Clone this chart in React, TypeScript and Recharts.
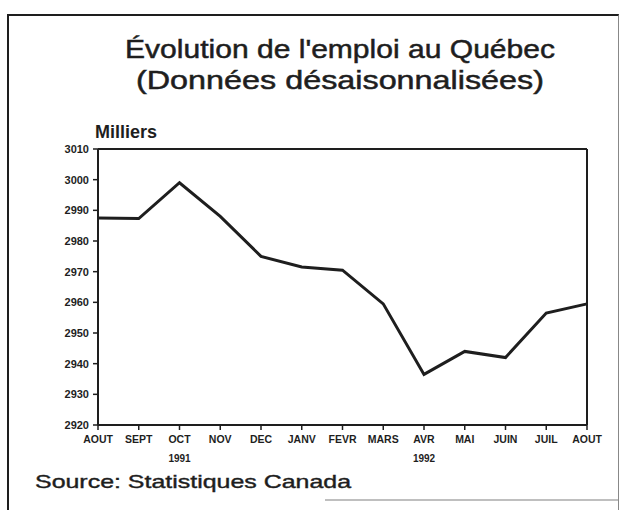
import React from "react";
import { LineChart, Line, XAxis, YAxis, ReferenceLine } from "recharts";

const periods = ["1991-08", "1991-09", "1991-10", "1991-11", "1991-12", "1992-01", "1992-02", "1992-03", "1992-04", "1992-05", "1992-06", "1992-07", "1992-08"];
const monthLabels = ["AOUT", "SEPT", "OCT", "NOV", "DEC", "JANV", "FEVR", "MARS", "AVR", "MAI", "JUIN", "JUIL", "AOUT"];
const employment = [2987.5, 2987.3, 2999, 2988, 2975, 2971.5, 2970.5, 2959.5, 2936.5, 2944, 2942, 2956.5, 2959.5];
const yTicks = [2920, 2930, 2940, 2950, 2960, 2970, 2980, 2990, 3000, 3010];
const yearLabels = [
  { period: "1991-10", label: "1991" },
  { period: "1992-04", label: "1992" },
];

const data = periods.map((p, i) => ({ period: p, value: employment[i] }));

const FONT = "'Liberation Sans', Arial, Helvetica, sans-serif";
const INK = "#1e1e1e";

const YearTick = (props: any) => {
  const { x, y, payload, index } = props;
  const year = yearLabels.find((yl) => yl.period === payload.value);
  return (
    <g>
      <text x={x} y={y + 11} textAnchor="middle" fontFamily={FONT} fontWeight="bold" fontSize={10.5} fill={INK}>
        {monthLabels[index]}
      </text>
      {year ? (
        <text x={x} y={y + 30} textAnchor="middle" fontFamily={FONT} fontWeight="bold" fontSize={10} fill={INK}>
          {year.label}
        </text>
      ) : null}
    </g>
  );
};

const YTick = (props: any) => {
  const { x, y, payload } = props;
  return (
    <text x={x - 2} y={y + 4} textAnchor="end" fontFamily={FONT} fontWeight="bold" fontSize={11} fill={INK}>
      {payload.value}
    </text>
  );
};

export default function App() {
  return (
    <div style={{ position: "relative", width: 624, height: 510, background: "#fff", fontFamily: FONT }}>
      <style>{"body{margin:0;background:#fff}"}</style>
      <div
        style={{
          position: "absolute",
          left: 7,
          top: 14,
          width: 612,
          height: 496,
          borderTop: `2px solid ${INK}`,
          borderLeft: `2px solid ${INK}`,
          borderRight: `1px solid #888`,
          boxSizing: "border-box",
        }}
      />
      <svg width={624} height={510} style={{ position: "absolute", left: 0, top: 0 }}>
        <text x={340} y={58} textAnchor="middle" fontFamily={FONT} fontSize={26} fill={INK} stroke={INK} strokeWidth={0.5} textLength={430} lengthAdjust="spacingAndGlyphs">
          Évolution de l'emploi au Québec
        </text>
        <text x={340} y={89} textAnchor="middle" fontFamily={FONT} fontSize={26} fill={INK} stroke={INK} strokeWidth={0.5} textLength={408} lengthAdjust="spacingAndGlyphs">
          (Données désaisonnalisées)
        </text>
        <text x={95} y={138} fontFamily={FONT} fontSize={18} fontWeight={600} fill={INK}>
          Milliers
        </text>
        <text x={35} y={488} fontFamily={FONT} fontSize={19} fill={INK} stroke={INK} strokeWidth={0.4} textLength={316} lengthAdjust="spacingAndGlyphs">
          Source: Statistiques Canada
        </text>
        <line x1={325} y1={500} x2={618} y2={500} stroke="#aaa" strokeWidth={1.5} />
      </svg>
      <div style={{ position: "absolute", left: 0, top: 0 }}>
        <LineChart width={624} height={510} data={data} margin={{ top: 149, right: 37, bottom: 55, left: 0 }}>
          <XAxis
            dataKey="period"
            height={30}
            tick={<YearTick />}
            tickSize={5}
            interval={0}
            stroke={INK}
            strokeWidth={2}
            axisLine={{ stroke: INK, strokeWidth: 2 }}
            tickLine={{ stroke: INK, strokeWidth: 1.5 }}
          />
          <YAxis
            width={98}
            domain={[2920, 3010]}
            ticks={yTicks}
            tickSize={5}
            interval={0}
            axisLine={{ stroke: INK, strokeWidth: 2 }}
            tickLine={{ stroke: INK, strokeWidth: 1.5 }}
            tick={<YTick />}
          />
          <ReferenceLine y={3010} stroke={INK} strokeWidth={2} />
          <ReferenceLine x={periods[periods.length - 1]} stroke={INK} strokeWidth={2} />
          <Line
            type="linear"
            dataKey="value"
            stroke={INK}
            strokeWidth={3}
            dot={false}
            isAnimationActive={false}
          />
        </LineChart>
      </div>
    </div>
  );
}
